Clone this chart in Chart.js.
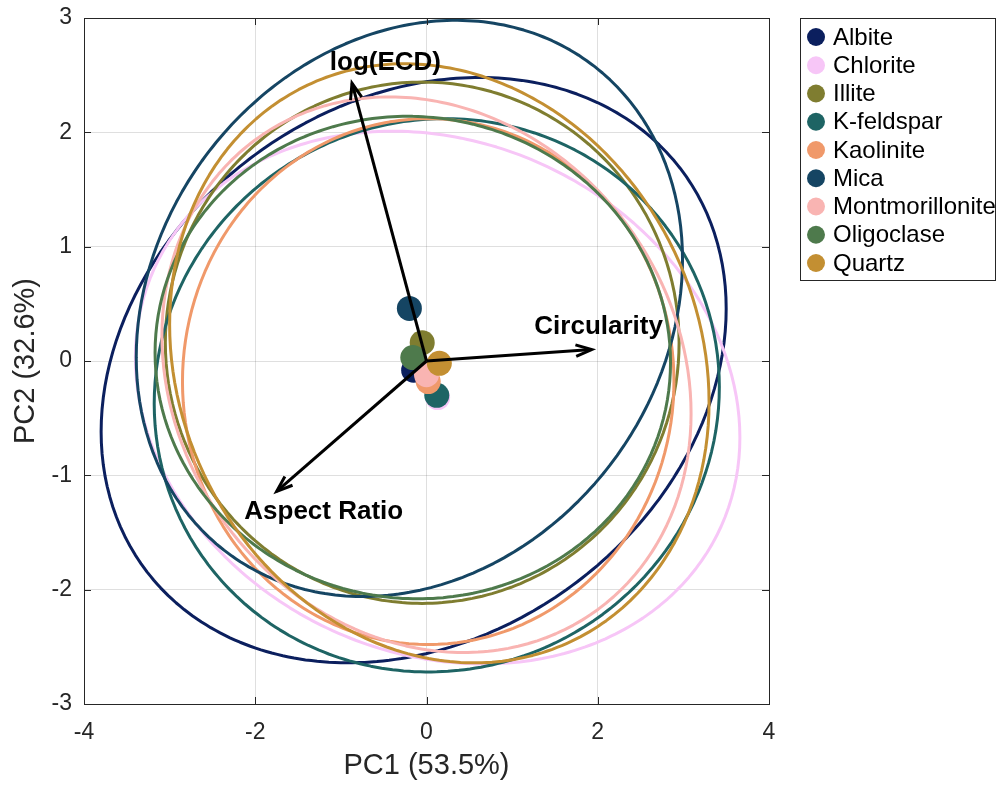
<!DOCTYPE html>
<html>
<head>
<meta charset="utf-8">
<script src="https://cdn.jsdelivr.net/npm/chart.js@4.4.1/dist/chart.umd.min.js"></script>
<style>
  html, body { margin: 0; padding: 0; background: #fff; }
</style>
</head>
<body>
<canvas id="pca" width="997" height="785"></canvas>
<script>
// group names (legend order)
const minerals = ["Albite", "Chlorite", "Illite", "K-feldspar", "Kaolinite", "Mica", "Montmorillonite", "Oligoclase", "Quartz"];
// group means in PC space
const meanX = [-0.15, 0.13, -0.05, 0.12, 0.02, -0.20, 0.00, -0.16, 0.15];
const meanY = [-0.08, -0.32, 0.16, -0.30, -0.18, 0.46, -0.12, 0.03, -0.02];
// confidence ellipse spread along PC1 / PC2 and correlation
const spreadX = [3.65, 3.53, 3.00, 3.30, 2.87, 3.19, 3.09, 3.01, 3.15];
const spreadY = [2.56, 2.33, 2.28, 2.42, 2.30, 2.52, 2.43, 2.11, 2.62];
const corrXY = [0.21, -0.15, 0.00, 0.03, 0.00, 0.17, -0.14, -0.02, -0.13];

// loading vectors
const variables = ["log(ECD)", "Circularity", "Aspect Ratio"];
const loadX = [-0.87, 1.93, -1.75];
const loadY = [2.43, 0.10, -1.14];
const labelX = [-0.48, 2.01, -1.20];
const labelY = [2.61, 0.30, -1.32];

const colors = ["#0b1f5e", "#f7c6f7", "#7f7d30", "#1e6464", "#f0996a", "#154563", "#f9b4b2", "#4e7a4c", "#c38f32"];
const FONT = "'Liberation Sans', Arial, Helvetica, sans-serif";
const AXIS = "#262626";

function ellipsePoints(i) {
  const pts = [];
  const k = Math.sqrt(1 - corrXY[i] * corrXY[i]);
  for (let s = 0; s <= 160; s++) {
    const t = s / 160 * 2 * Math.PI;
    pts.push({
      x: meanX[i] + spreadX[i] * Math.cos(t),
      y: meanY[i] + spreadY[i] * (corrXY[i] * Math.cos(t) + k * Math.sin(t))
    });
  }
  return pts;
}

const datasets = [];
minerals.forEach((name, i) => {
  datasets.push({
    label: name + " ellipse",
    data: ellipsePoints(i),
    showLine: true,
    tension: 0.01, // keeps chart.js off its fast path, which collapses points sharing an x pixel
    borderColor: colors[i],
    borderWidth: 3,
    borderCapStyle: "round",
    borderJoinStyle: "round",
    pointRadius: 0,
    fill: false,
    clip: false,
    order: 50 - i
  });
  datasets.push({
    label: name,
    data: [{ x: meanX[i], y: meanY[i] }],
    backgroundColor: colors[i],
    borderWidth: 0,
    pointRadius: 12.5,
    order: 20 - i
  });
});

const overlay = {
  id: "overlay",
  afterDatasetsDraw(chart) {
    const { ctx, scales: { x, y } } = chart;
    ctx.save();
    ctx.strokeStyle = "#000";
    ctx.lineWidth = 3;
    const x0 = x.getPixelForValue(0), y0 = y.getPixelForValue(0);
    variables.forEach((v, j) => {
      const x1 = x.getPixelForValue(loadX[j]), y1 = y.getPixelForValue(loadY[j]);
      const a = Math.atan2(y1 - y0, x1 - x0);
      ctx.beginPath();
      ctx.moveTo(x0, y0);
      ctx.lineTo(x1, y1);
      ctx.stroke();
      ctx.beginPath();
      ctx.moveTo(x1 - 17 * Math.cos(a - 0.35), y1 - 17 * Math.sin(a - 0.35));
      ctx.lineTo(x1, y1);
      ctx.lineTo(x1 - 17 * Math.cos(a + 0.35), y1 - 17 * Math.sin(a + 0.35));
      ctx.stroke();
    });
    ctx.fillStyle = "#000";
    ctx.font = "bold 26px " + FONT;
    ctx.textAlign = "center";
    ctx.textBaseline = "middle";
    variables.forEach((v, j) => {
      ctx.fillText(v, x.getPixelForValue(labelX[j]), y.getPixelForValue(labelY[j]));
    });
    ctx.restore();
  },
  afterDraw(chart) {
    const { ctx, chartArea: a, scales: { x, y } } = chart;
    ctx.save();
    ctx.strokeStyle = AXIS;
    ctx.lineWidth = 1;
    ctx.strokeRect(Math.round(a.left) + 0.5, Math.round(a.top) + 0.5, Math.round(a.right - a.left), Math.round(a.bottom - a.top));
    ctx.beginPath();
    x.ticks.forEach(t => {
      const px = Math.round(x.getPixelForValue(t.value)) + 0.5;
      ctx.moveTo(px, a.bottom); ctx.lineTo(px, a.bottom - 7);
      ctx.moveTo(px, a.top); ctx.lineTo(px, a.top + 7);
    });
    y.ticks.forEach(t => {
      const py = Math.round(y.getPixelForValue(t.value)) + 0.5;
      ctx.moveTo(a.left, py); ctx.lineTo(a.left + 7, py);
      ctx.moveTo(a.right, py); ctx.lineTo(a.right - 7, py);
    });
    ctx.stroke();

    // legend
    ctx.fillStyle = "#fff";
    ctx.fillRect(800, 18, 196, 263);
    ctx.strokeRect(800.5, 18.5, 195, 262);
    ctx.font = "24px " + FONT;
    ctx.textAlign = "left";
    ctx.textBaseline = "middle";
    minerals.forEach((name, i) => {
      const cy = 37 + i * 28.25;
      ctx.beginPath();
      ctx.arc(816, cy, 9, 0, 2 * Math.PI);
      ctx.fillStyle = colors[i];
      ctx.fill();
      ctx.fillStyle = "#000";
      ctx.fillText(name, 833, cy + 1);
    });
    ctx.restore();
  }
};

new Chart(document.getElementById("pca"), {
  type: "scatter",
  data: { datasets: datasets },
  plugins: [overlay],
  options: {
    responsive: false,
    animation: false,
    layout: { padding: { top: 18, right: 228, left: 0, bottom: 0 } },
    plugins: { legend: { display: false }, tooltip: { enabled: false } },
    scales: {
      x: {
        min: -4, max: 4,
        ticks: { stepSize: 2, color: AXIS, font: { family: FONT, size: 23 }, padding: 15 },
        grid: { color: "rgba(38,38,38,0.15)", drawTicks: false },
        border: { display: false },
        title: { display: true, text: "PC1 (53.5%)", color: AXIS, font: { family: FONT, size: 29 }, padding: { top: 0, bottom: 2 } },
        afterFit(s) { s.height = 81; s.paddingLeft = 0; s.paddingRight = 0; }
      },
      y: {
        min: -3, max: 3,
        ticks: { stepSize: 1, color: AXIS, font: { family: FONT, size: 23 }, padding: 12 },
        grid: { color: "rgba(38,38,38,0.15)", drawTicks: false },
        border: { display: false },
        title: { display: true, text: "PC2 (32.6%)", color: AXIS, font: { family: FONT, size: 29 }, padding: { top: 9, bottom: 0 } },
        afterFit(s) { s.width = 84; s.paddingTop = 0; s.paddingBottom = 0; }
      }
    }
  }
});
</script>
</body>
</html>
